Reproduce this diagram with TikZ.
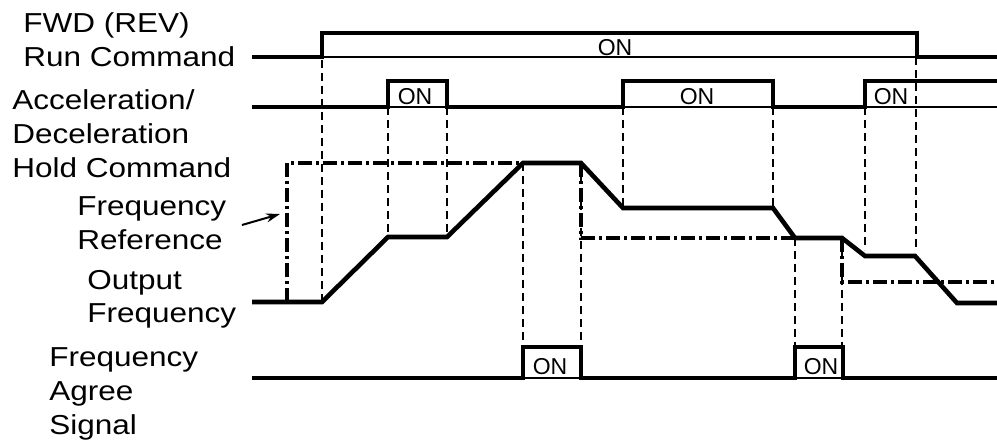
\documentclass[tikz,border=0pt]{standalone}
\usepackage{fontspec}
\setmainfont{Liberation Sans}
\newfontfamily\lblfont{Liberation Sans}[FakeStretch=1.15]
\usetikzlibrary{arrows.meta}

\begin{document}
\begin{tikzpicture}[x=0.5pt,y=-0.5pt,
    sig/.style={line width=2.3pt},
    under/.style={line width=0.7pt},
    guide/.style={line width=0.9pt, dash pattern=on 4pt off 2.5pt},
    refline/.style={line width=1.7pt, dash pattern=on 7pt off 2pt on 1.5pt off 2pt},
    lbl/.style={font=\lblfont\fontsize{13.7}{17}\selectfont, align=left, anchor=base west, inner sep=0pt},
    onlbl/.style={font=\fontsize{11.5}{11.5}\selectfont, anchor=base, inner sep=0pt},
    arr/.style={-{Stealth[length=7pt,width=4.5pt]}, line width=1pt}
  ]
  \useasboundingbox (0,0) rectangle (997,443);

  % signal names (anchored at the last line)
  \node[lbl] (lbl_fwd) at (23,67) {FWD (REV)\\Run Command};
  \node[lbl] (lbl_hold) at (12,178) {Acceleration/\\Deceleration\\Hold Command};
  \node[lbl] (lbl_ref) at (77,250) {Frequency\\Reference};
  \node[lbl] (lbl_out) at (87,323) {Output\\Frequency};
  \node[lbl] (lbl_agree) at (49,435) {Frequency\\Agree\\Signal};

  % guides
  \draw[guide] (322,60) -- (322,302);
  \draw[guide] (388,107) -- (388,237);
  \draw[guide] (447,107) -- (447,237);
  \draw[guide] (523,163) -- (523,347);
  \draw[guide] (581,163) -- (581,347);
  \draw[guide] (623,107) -- (623,208);
  \draw[guide] (773,107) -- (773,208);
  \draw[guide] (795,238) -- (795,347);
  \draw[guide] (842,238) -- (842,347);
  \draw[guide] (865,107) -- (865,250);
  \draw[guide] (916,57) -- (916,250);

  % run command
  \draw[sig] (252,57) -- (322,57) -- (322,33) -- (917,33) -- (917,57) -- (997,57);
  \draw[under] (322,57) -- (917,57);
  \node[onlbl] (on_run) at (615,56) {ON};

  % hold command
  \draw[sig] (252,107) -| (388,81) -| (447,107) -| (623,81) -| (773,107) -| (865,81) -- (997,81);
  \draw[under] (388,107) -- (447,107);
  \draw[under] (623,107) -- (773,107);
  \draw[under] (865,107) -- (997,107);
  \node[onlbl] (on_hold1) at (415,105) {ON};
  \node[onlbl] (on_hold2) at (697,105) {ON};
  \node[onlbl] (on_hold3) at (891,105) {ON};

  % reference
  \draw[refline] (287,302) -- (287,163) -- (523,163);
  \draw[refline] (581,163) -- (581,238) -- (795,238);
  \draw[refline] (842,238) -- (842,282) -- (997,282);
  \coordinate (ref_tail) at (242,225);
  \coordinate (ref_head) at (280,214);
  \draw[arr] (ref_tail) -- (ref_head);

  % output
  \draw[sig] (252,302) -- (322,302) -- (388,237) -- (447,237) -- (523,163) -- (581,163)
    -- (623,208) -- (773,208) -- (795,238) -- (842,238) -- (865,256) -- (915,256)
    -- (957,303) -- (997,303);

  % agree signal
  \draw[sig] (252,378) -| (523,347) -| (581,378) -| (795,347) -| (843,378) -- (997,378);
  \draw[under] (523,378) -- (581,378);
  \draw[under] (795,378) -- (843,378);
  \node[onlbl] (on_agree1) at (550,375) {ON};
  \node[onlbl] (on_agree2) at (821,375) {ON};
\end{tikzpicture}
\end{document}
